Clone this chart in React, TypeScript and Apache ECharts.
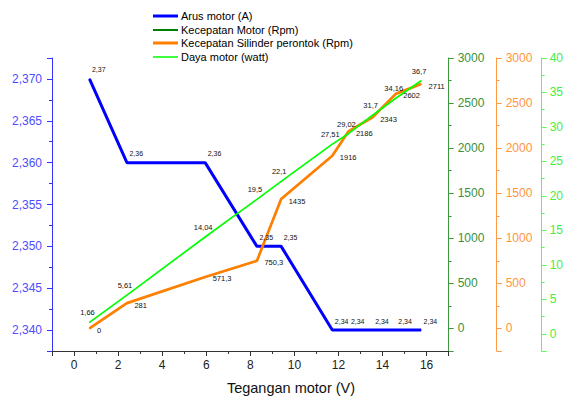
import React, { useEffect, useRef } from "react";
import * as echarts from "echarts";

// Data
const voltage = [0.7, 2.4, 5.95, 8.3, 9.4, 11.72, 12.45, 13.55, 14.6, 15.75];
const arusMotor = [2.37, 2.36, 2.36, 2.35, 2.35, 2.34, 2.34, 2.34, 2.34, 2.34];
const kecepatanMotor = [0, 281, 571.3, 750.3, 1435, 1916, 2186, 2343, 2602, 2711];
const kecepatanSilinder = [0, 281, 571.3, 750.3, 1435, 1916, 2186, 2343, 2602, 2711];
const dayaMotor = [1.66, 5.61, 14.04, 19.5, 22.1, 27.51, 29.02, 31.7, 34.16, 36.7];

const seriesNames = [
  "Arus motor (A)",
  "Kecepatan Motor (Rpm)",
  "Kecepatan Silinder perontok (Rpm)",
  "Daya motor (watt)",
];
const xAxisTitle = "Tegangan motor (V)";

const FONT = "'Liberation Sans', Arial, sans-serif";
const fmt = (v: number) => String(v).replace(".", ",");

const BLUE = "#0000ff";
const DGREEN = "#008000";
const ORANGE = "#ff8000";
const LGREEN = "#00ff00";

export default function App() {
  const ref = useRef<HTMLDivElement>(null);
  useEffect(() => {
    const chart = echarts.init(ref.current!, null, { renderer: "svg" });
    const pairs = (ys: number[]) => voltage.map((x, i) => [x, ys[i]]);

    const yAxisBase = (color: string, labelColor: string, margin: number) => ({
      type: "value",
      splitLine: { show: false },
      axisLine: { show: true, onZero: false, lineStyle: { color, width: 1 } },
      axisTick: { show: true, inside: false, length: 5, lineStyle: { color } },
      minorTick: { show: true, splitNumber: 2, length: 3, lineStyle: { color } },
      axisLabel: {
        color: labelColor,
        fontSize: 12,
        fontFamily: FONT,
        margin,
        showMinLabel: false,
        showMaxLabel: true,
        formatter: (v: number) => String(v),
      },
    });

    const legendRows = [
      { color: BLUE, width: 3, y: 16 },
      { color: DGREEN, width: 2, y: 30 },
      { color: ORANGE, width: 3, y: 43 },
      { color: LGREEN, width: 1.5, y: 57 },
    ];
    const legendGraphics: any[] = [];
    legendRows.forEach((r, i) => {
      legendGraphics.push({
        type: "line",
        shape: { x1: 153, y1: r.y, x2: 178, y2: r.y },
        style: { stroke: r.color, lineWidth: r.width },
      });
      legendGraphics.push({
        type: "text",
        x: 181,
        y: r.y,
        style: {
          text: seriesNames[i],
          fontSize: 11,
          fontFamily: FONT,
          fill: "#000",
          textVerticalAlign: "middle",
        },
      });
    });

    const leftAxis = yAxisBase("#3333ff", "#4d4dff", 10);
    const dgAxis = yAxisBase("#3c9a3c", "#3a913a", 9);
    const orAxis = yAxisBase("#ff9a45", "#ff9540", 9);
    const lgAxis = yAxisBase("#55ff55", "#44ee44", 8);

    const option: any = {
      animation: false,
      textStyle: { fontFamily: FONT },
      grid: { left: 52, right: 111, top: 58, bottom: 47, containLabel: false },
      xAxis: {
        type: "value",
        min: -1,
        max: 17,
        minInterval: 2,
        maxInterval: 2,
        splitLine: { show: false },
        axisLine: { show: true, onZero: false, lineStyle: { color: "#333", width: 1 } },
        axisTick: { show: true, inside: false, length: 5, lineStyle: { color: "#333" } },
        minorTick: { show: true, splitNumber: 2, length: 3, lineStyle: { color: "#333" } },
        axisLabel: {
          color: "#222",
          fontSize: 12,
          fontFamily: FONT,
          margin: 8,
          showMinLabel: false,
          showMaxLabel: false,
          formatter: (v: number) => String(v),
        },
      },
      yAxis: [
        {
          ...leftAxis,
          position: "left",
          min: 2.3375,
          max: 2.3725,
          minInterval: 0.005,
          maxInterval: 0.005,
          axisLabel: {
            ...leftAxis.axisLabel,
            showMaxLabel: false,
            formatter: (v: number) => v.toFixed(3).replace(".", ","),
          },
        },
        {
          ...dgAxis,
          position: "right",
          offset: 0,
          min: -250,
          max: 3000,
          minInterval: 500,
          maxInterval: 500,
        },
        {
          ...orAxis,
          position: "right",
          offset: 48,
          min: -250,
          max: 3000,
          minInterval: 500,
          maxInterval: 500,
        },
        {
          ...lgAxis,
          position: "right",
          offset: 93,
          min: -2.5,
          max: 40,
          minInterval: 5,
          maxInterval: 5,
        },
      ],
      series: [
        {
          name: seriesNames[0],
          type: "line",
          yAxisIndex: 0,
          data: pairs(arusMotor),
          symbol: "circle",
          symbolSize: 1,
          itemStyle: { color: BLUE },
          lineStyle: { color: BLUE, width: 3 },
          label: {
            show: true,
            position: "right",
            distance: 0,
            offset: [2, -9],
            fontSize: 7,
            color: "#111",
            fontFamily: FONT,
            formatter: (p: any) => fmt(p.value[1]),
          },
        },
        {
          name: seriesNames[1],
          type: "line",
          yAxisIndex: 1,
          data: pairs(kecepatanMotor),
          symbol: "none",
          lineStyle: { color: DGREEN, width: 1.5 },
        },
        {
          name: seriesNames[2],
          type: "line",
          yAxisIndex: 2,
          data: pairs(kecepatanSilinder),
          symbol: "circle",
          symbolSize: 1,
          itemStyle: { color: ORANGE },
          lineStyle: { color: ORANGE, width: 2.7 },
          label: {
            show: true,
            position: "right",
            distance: 0,
            offset: [7, 2],
            fontSize: 7.5,
            color: "#111",
            fontFamily: FONT,
            formatter: (p: any) => fmt(p.value[1]),
          },
        },
        {
          name: seriesNames[3],
          type: "line",
          yAxisIndex: 3,
          data: pairs(dayaMotor),
          symbol: "circle",
          symbolSize: 1,
          itemStyle: { color: LGREEN },
          lineStyle: { color: LGREEN, width: 1.7 },
          label: {
            show: true,
            position: "top",
            distance: 5,
            offset: [-2, 0],
            fontSize: 7.5,
            color: "#111",
            fontFamily: FONT,
            formatter: (p: any) => fmt(p.value[1]),
          },
        },
      ],
      graphic: [
        ...legendGraphics,
        {
          type: "text",
          x: 291,
          y: 388,
          style: {
            text: xAxisTitle,
            fontSize: 14.5,
            fontFamily: FONT,
            fill: "#111",
            textAlign: "center",
            textVerticalAlign: "middle",
          },
        },
      ],
    };
    chart.setOption(option);
    return () => chart.dispose();
  }, []);
  return (
    <div
      ref={ref}
      style={{ position: "absolute", left: 0, top: 0, width: 566, height: 398 }}
    />
  );
}
